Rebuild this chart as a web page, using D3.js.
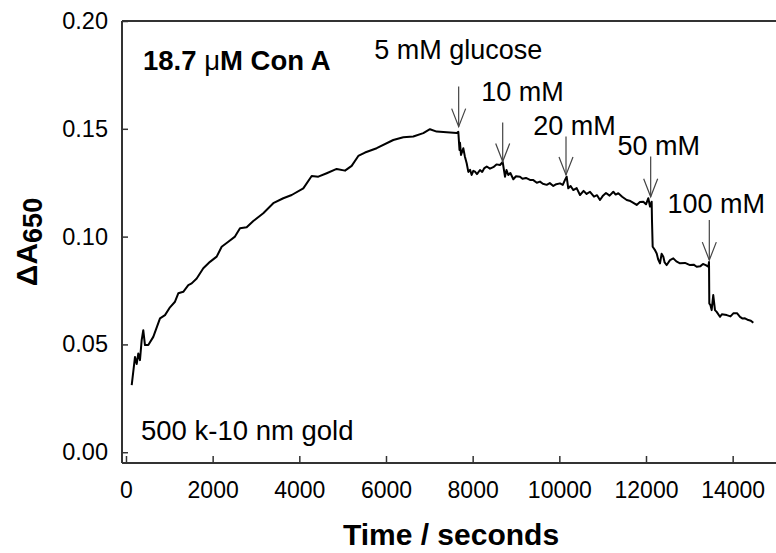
<!DOCTYPE html>
<html><head><meta charset="utf-8">
<script src="https://cdn.jsdelivr.net/npm/d3@7"></script>
<style>
html,body{margin:0;padding:0;background:#fff;}
svg{display:block;font-family:"Liberation Sans",Arial,Helvetica,sans-serif;}
</style></head>
<body><svg id="chart" width="776" height="553"></svg>
<script>
// ---- data ----
const timeSec = [132,208,247,284,323,362,399,438,515,630,785,900,1015,1131,1207,1322,1438,1516,1632,1784,1938,2093,2208,2361,2515,2631,2785,2938,3168,3399,3630,3824,4092,4285,4438,4632,4862,5054,5208,5361,5515,5785,6168,6399,6630,6861,7015,7170,7400,7632,7669,
 7696,7708,7731,7784,7820,7862,7900,7940,7977,8015,8054,8100,8169,8220,8270,8324,8400,8476,8550,8631,8693,
 8746,8781,8822,8870,8938,9000,9092,9150,9230,9323,9400,9480,9554,9620,9708,9780,9861,9930,10015,10080,10131,
 10169,10206,10260,10321,10400,10477,10560,10630,10708,10800,10870,10938,11000,11077,11160,11246,11300,11361,11450,11555,11640,11700,11785,11860,11938,12000,12054,12092,12131,
 12138,12154,12200,12247,12280,12323,12360,12400,12430,12478,12554,12630,12700,12785,12900,13015,13100,13170,13250,13315,13380,13438,13454,
 13461,13488,13515,13552,13592,13631,13707,13750,13862,13950,14015,14100,14169,14230,14284,14361,14420,14476];
const deltaA650 = [0.0311,0.0442,0.0409,0.0458,0.0427,0.0520,0.0566,0.0497,0.0497,0.0535,0.0621,0.0636,0.0672,0.0698,0.0737,0.0744,0.0775,0.0783,0.0806,0.0853,0.0883,0.0907,0.0953,0.0976,0.1000,0.1039,0.1043,0.1072,0.1108,0.1155,0.1178,0.1193,0.1224,0.1281,0.1278,0.1294,0.1314,0.1306,0.1328,0.1374,0.1390,0.1410,0.1448,0.1461,0.1464,0.1480,0.1498,0.1487,0.1484,0.1480,0.1486,
 0.1402,0.1435,0.1379,0.1410,0.1372,0.1340,0.1300,0.1310,0.1286,0.1305,0.1301,0.1290,0.1309,0.1300,0.1318,0.1325,0.1315,0.1322,0.1335,0.1332,0.1346,
 0.1278,0.1309,0.1286,0.1295,0.1266,0.1280,0.1278,0.1268,0.1272,0.1263,0.1262,0.1250,0.1255,0.1245,0.1240,0.1248,0.1235,0.1243,0.1247,0.1240,0.1263,
 0.1278,0.1224,0.1235,0.1216,0.1225,0.1193,0.1212,0.1198,0.1208,0.1185,0.1192,0.1170,0.1188,0.1202,0.1190,0.1208,0.1195,0.1201,0.1185,0.1170,0.1165,0.1158,0.1147,0.1160,0.1162,0.1150,0.1178,0.1139,0.1162,
 0.1077,0.0953,0.0940,0.0922,0.0895,0.0876,0.0920,0.0907,0.0880,0.0868,0.0891,0.0899,0.0885,0.0876,0.0878,0.0868,0.0870,0.0860,0.0862,0.0873,0.0868,0.0860,0.0882,
 0.0690,0.0682,0.0659,0.0729,0.0659,0.0651,0.0628,0.0640,0.0636,0.0630,0.0644,0.0645,0.0628,0.0620,0.0621,0.0613,0.0610,0.0600];

const xTicks = [0,2000,4000,6000,8000,10000,12000,14000];
const yTicks = [0.00,0.05,0.10,0.15,0.20];

// glucose additions (arrows) and their labels
const additionLabels = ["5 mM glucose","10 mM","20 mM","50 mM","100 mM"];
const additionTime   = [7677,8693,10154,12108,13461];
const arrowTipValue  = [0.1510,0.1348,0.1286,0.1185,0.0891];
const arrowTopValue  = [0.1696,0.1529,0.1464,0.1371,0.1077];
const labelTime      = [5730,8200,9400,11340,12495];
const labelValue     = [0.1825,0.1630,0.1472,0.1379,0.1111];

// ---- layout ----
const svg = d3.select("#chart");
const L = 122, T = 21, R = 776, B = 463;
const x = d3.scaleLinear().domain([-92, 15000]).range([L, R]);
const y = d3.scaleLinear().domain([-0.005, 0.20]).range([B, T]);
const axisColor = "#333";

// x axis
const gx = svg.append("g").attr("transform", `translate(0,${B})`)
  .call(d3.axisBottom(x).tickValues(xTicks).tickFormat(d3.format("d"))
        .tickSizeInner(-7).tickSizeOuter(0).tickPadding(19));
gx.select(".domain").remove();
gx.selectAll(".tick line").attr("stroke", axisColor).attr("stroke-width", 1.5);
gx.selectAll(".tick text").attr("fill", "#000").attr("font-size", 23)
  .attr("font-family", '"Liberation Sans",Arial,sans-serif');

// y axis
const gy = svg.append("g").attr("transform", `translate(${L},0)`)
  .call(d3.axisLeft(y).tickValues(yTicks).tickFormat(d3.format(".2f"))
        .tickSizeInner(-6).tickSizeOuter(0).tickPadding(14));
gy.select(".domain").remove();
gy.selectAll(".tick line").attr("stroke", axisColor).attr("stroke-width", 1.5);
gy.selectAll(".tick text").attr("fill", "#000").attr("font-size", 23.5)
  .attr("font-family", '"Liberation Sans",Arial,sans-serif');

// frame lines (left, bottom, top)
const frame = svg.append("g").attr("stroke", axisColor).attr("stroke-width", 2).attr("fill", "none");
frame.append("line").attr("x1", L).attr("x2", L).attr("y1", T).attr("y2", B);
frame.append("line").attr("x1", L).attr("x2", R).attr("y1", B).attr("y2", B);
frame.append("line").attr("x1", L).attr("x2", R).attr("y1", T).attr("y2", T);

// data line
const pts = timeSec.map((t, i) => [t, deltaA650[i]]);
svg.append("path").datum(pts)
  .attr("fill", "none").attr("stroke", "#000").attr("stroke-width", 2)
  .attr("stroke-linejoin", "round")
  .attr("d", d3.line().x(d => x(d[0])).y(d => y(d[1])));

// arrows
const arr = svg.append("g").attr("stroke", "#444").attr("stroke-width", 1.2).attr("fill", "none");
additionTime.forEach((t, i) => {
  const ax = x(t), ty = y(arrowTipValue[i]), topY = y(arrowTopValue[i]);
  arr.append("line").attr("x1", ax).attr("x2", ax).attr("y1", topY).attr("y2", ty);
  arr.append("path").attr("d", `M${ax-7},${ty-18}L${ax},${ty}L${ax+7},${ty-18}`);
});

// addition labels
svg.append("g").selectAll("text").data(additionLabels).join("text")
  .attr("x", (d, i) => x(labelTime[i]))
  .attr("y", (d, i) => y(labelValue[i]))
  .attr("font-size", 27).attr("fill", "#000")
  .text(d => d);

// in-plot notes
const note = svg.append("text").attr("x", 143).attr("y", 70)
  .attr("font-size", 27.5).attr("font-weight", "bold").attr("fill", "#000");
note.append("tspan").text("18.7 ");
note.append("tspan").attr("font-weight", "normal").text("μ");
note.append("tspan").text("M Con A");

svg.append("text").attr("x", 141).attr("y", 440)
  .attr("font-size", 27.5).attr("fill", "#000").text("500 k-10 nm gold");

// axis titles
svg.append("text").attr("x", 451).attr("y", 545).attr("text-anchor", "middle")
  .attr("font-size", 30).attr("font-weight", "bold").attr("fill", "#000")
  .text("Time / seconds");

const yt = svg.append("text").attr("transform", "translate(37,242) rotate(-90)")
  .attr("text-anchor", "middle").attr("font-weight", "bold").attr("fill", "#000");
yt.append("tspan").attr("font-size", 30).text("ΔA");
yt.append("tspan").attr("font-size", 27).attr("dy", 5).text("650");
</script></body></html>
